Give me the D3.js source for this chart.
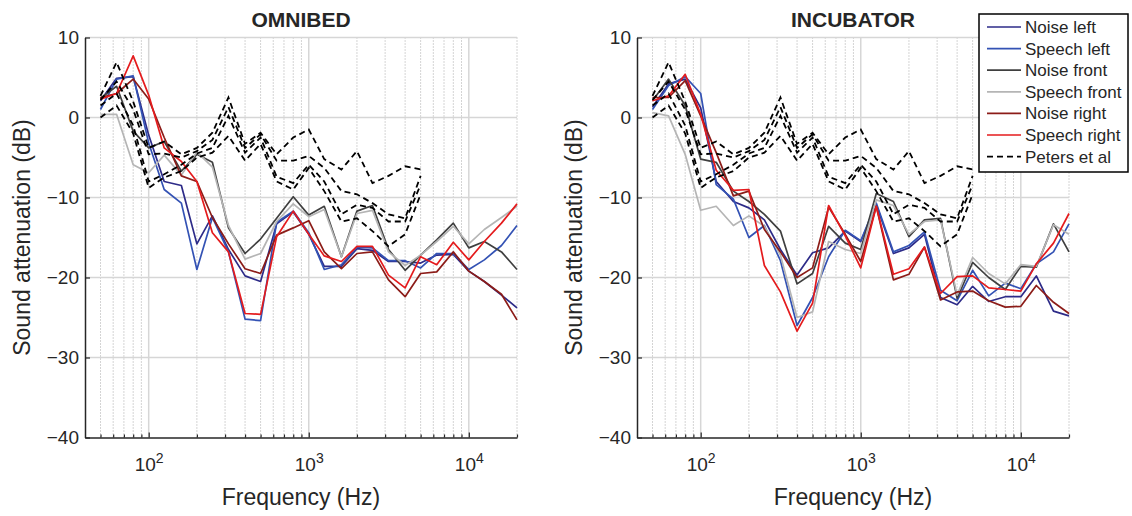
<!DOCTYPE html>
<html>
<head>
<meta charset="utf-8">
<script src="https://cdn.jsdelivr.net/npm/d3@7"></script>
<style>
  body { margin: 0; background: #fff; }
  text { font-family: "Liberation Sans", Arial, sans-serif; fill: #262626; }
</style>
</head>
<body>
<div id="root"></div>
<script>
// third-octave band centre frequencies (Hz)
const freqs = [50, 63, 80, 100, 125, 160, 200, 250, 315, 400, 500, 630, 800, 1000, 1250,
               1600, 2000, 2500, 3150, 4000, 5000, 6300, 8000, 10000, 12500, 16000, 20000];
const petersFreqs = [50, 63, 80, 100, 125, 160, 200, 250, 315, 400, 500, 630, 800, 1000,
                     1250, 1600, 2000, 2500, 3150, 4000, 5000];

const seriesNames = ["Noise left", "Speech left", "Noise front", "Speech front", "Noise right", "Speech right"];
const petersName = "Peters et al";

// OMNIBED (dB)
const omniNoiseLeft   = [2.1, 4.9, 5.1, -2.2, -8.0, -8.5, -15.8, -12.3, -16.5, -19.8, -20.5, -13.3, -11.8, -14.6, -18.6, -18.6, -16.4, -16.6, -18.0, -18.0, -18.2, -17.2, -17.1, -19.2, -20.5, -22.2, -23.8];
const omniSpeechLeft  = [1.0, 4.8, 5.2, -3.2, -9.0, -10.7, -19.0, -12.5, -16.8, -25.2, -25.4, -13.1, -11.7, -14.4, -19.0, -18.4, -16.2, -16.3, -17.9, -17.9, -18.8, -17.0, -17.0, -19.0, -17.8, -16.0, -13.5];
const omniNoiseFront  = [2.4, 3.9, -1.7, -3.8, -3.0, -6.7, -4.6, -5.6, -13.8, -17.0, -15.2, -12.6, -9.9, -12.2, -11.1, -17.4, -11.7, -11.0, -16.5, -19.1, -17.2, -15.3, -13.2, -16.3, -15.5, -16.8, -19.0];
const omniSpeechFront = [0.4, 0.4, -5.9, -6.9, -4.7, -7.2, -4.3, -6.2, -13.5, -17.7, -17.0, -13.0, -10.8, -12.4, -11.5, -17.4, -12.0, -11.6, -16.8, -18.5, -17.2, -15.5, -13.6, -15.8, -14.0, -12.5, -11.1];
const omniNoiseRight  = [2.5, 3.0, 4.8, 2.3, -2.5, -7.3, -8.0, -12.5, -15.8, -18.9, -19.5, -14.7, -13.8, -12.9, -16.8, -18.9, -17.0, -16.8, -20.3, -22.4, -19.5, -19.3, -16.8, -19.2, -20.5, -22.1, -25.3];
const omniSpeechRight = [2.3, 3.0, 7.7, 2.8, -3.8, -5.5, -8.0, -14.4, -16.8, -24.5, -24.6, -14.9, -11.7, -14.6, -17.3, -18.0, -16.1, -16.1, -19.7, -21.3, -17.4, -18.4, -15.6, -17.8, -15.5, -13.2, -10.8];

// INCUBATOR (dB)
const incNoiseLeft   = [1.3, 4.2, 4.8, 1.2, -8.0, -10.5, -11.3, -12.8, -16.5, -19.7, -16.9, -16.3, -14.2, -15.5, -10.9, -17.0, -16.3, -14.6, -22.5, -23.4, -21.1, -23.0, -22.4, -22.4, -19.8, -24.2, -24.8];
const incSpeechLeft  = [1.0, 4.0, 5.1, 3.0, -8.4, -10.2, -15.0, -13.5, -17.9, -26.0, -22.5, -17.4, -14.1, -15.4, -10.7, -16.8, -16.0, -14.3, -21.6, -22.9, -19.1, -22.3, -20.7, -21.4, -18.3, -16.8, -13.3];
const incNoiseFront  = [2.1, 4.8, 1.5, -5.2, -5.6, -9.2, -10.5, -12.1, -14.2, -20.8, -19.5, -13.6, -15.7, -16.5, -9.5, -10.5, -14.9, -12.8, -12.6, -22.6, -18.1, -20.0, -21.5, -18.6, -18.7, -13.3, -16.8];
const incSpeechFront = [0.6, 0.2, -4.6, -11.6, -11.1, -13.5, -12.3, -13.6, -17.2, -25.0, -24.3, -15.5, -16.5, -17.0, -10.3, -11.0, -14.6, -13.0, -12.8, -22.2, -17.5, -19.5, -20.8, -18.4, -18.6, -13.4, -14.6];
const incNoiseRight  = [2.5, 2.5, 4.6, 0.2, -4.4, -9.8, -9.2, -14.0, -16.8, -20.0, -18.8, -11.2, -14.6, -18.0, -11.1, -20.3, -19.6, -16.2, -22.8, -21.8, -21.7, -22.9, -23.7, -23.6, -21.0, -23.1, -24.5];
const incSpeechRight = [2.1, 2.7, 5.4, 0.4, -6.6, -9.1, -9.0, -18.5, -21.8, -26.7, -23.2, -11.0, -14.8, -18.8, -11.1, -19.6, -18.9, -16.2, -22.0, -19.9, -19.8, -21.3, -21.5, -21.7, -18.3, -15.7, -12.0];

// Peters et al reference curves (same in both panels)
const petersA = [2.7, 6.9, 2.0, -3.8, -3.0, -4.6, -3.8, -1.9, 2.5, -3.3, -1.9, -4.6, -2.5, -1.5, -5.2, -6.5, -4.2, -8.2, -7.3, -6.1, -6.5];
const petersB = [2.2, 4.5, 1.0, -4.6, -4.5, -5.0, -4.2, -2.8, 1.3, -3.8, -2.1, -5.4, -5.4, -4.8, -6.3, -9.2, -9.6, -10.7, -12.1, -12.6, -7.3];
const petersC = [1.5, 3.0, -1.0, -8.0, -7.1, -5.9, -4.5, -3.8, 0.2, -4.4, -2.5, -7.4, -8.2, -5.9, -8.0, -12.1, -10.9, -11.3, -13.0, -13.0, -8.4];
const petersD = [0.0, 1.5, -2.0, -8.8, -7.5, -6.7, -5.0, -4.4, -2.3, -5.4, -3.3, -8.0, -9.0, -6.3, -9.2, -13.0, -12.6, -14.2, -16.1, -14.6, -9.6];

const yTicks = [10, 0, -10, -20, -30, -40];
const xMajor = [100, 1000, 10000];

const colors = ["#2d2b88", "#3352b4", "#3f3f3f", "#b5b5b5", "#8c1c18", "#e41b1d"];

const outerWidth = 1132;
const outerHeight = 516;
const plotTop = 37.5;
const plotW = 432;
const plotH = 400;

let svg = d3.select("#root")
            .append("svg")
            .attr("width", outerWidth)
            .attr("height", outerHeight);

// minor log grid positions 2..9 x 10^k inside the domain
let minorTicks = [];
[10, 100, 1000, 10000].forEach(dec => {
    for (let m = 2; m <= 9; m++) {
        let v = dec * m;
        if (v > 40 && v <= 20000) minorTicks.push(v);
    }
});

function drawPanel(left, title, data) {
    let x = d3.scaleLog().domain([40, 20000]).range([left, left + plotW]);
    let y = d3.scaleLinear().domain([-40, 10]).range([plotTop + plotH, plotTop]);
    let g = svg.append("g");

    // grid
    g.selectAll(".minor").data(minorTicks).enter().append("line")
        .attr("x1", d => x(d)).attr("x2", d => x(d))
        .attr("y1", plotTop).attr("y2", plotTop + plotH)
        .attr("stroke", "#a9a9a9").attr("stroke-width", 1)
        .attr("stroke-dasharray", "1,2");

    g.selectAll(".major").data(xMajor).enter().append("line")
        .attr("x1", d => x(d)).attr("x2", d => x(d))
        .attr("y1", plotTop).attr("y2", plotTop + plotH)
        .attr("stroke", "#d6d6d6").attr("stroke-width", 1.5);

    g.selectAll(".hgrid").data(yTicks.slice(0, -1)).enter().append("line")
        .attr("x1", left).attr("x2", left + plotW)
        .attr("y1", d => y(d)).attr("y2", d => y(d))
        .attr("stroke", "#d6d6d6").attr("stroke-width", 1.5);

    // axes
    let yAxis = d3.axisLeft(y).tickValues(yTicks).tickSizeInner(-5).tickSizeOuter(0).tickPadding(6);
    let ya = g.append("g").attr("transform", `translate(${left},0)`).call(yAxis);
    ya.select(".domain").attr("stroke", "#262626").attr("stroke-width", 1.5);
    ya.selectAll(".tick line").attr("stroke", "#262626").attr("stroke-width", 1.2);
    ya.selectAll(".tick text").style("font-size", "19px").attr("fill", "#262626");

    let xMinorAxis = d3.axisBottom(x).tickValues(minorTicks).tickSizeInner(-3).tickSizeOuter(0).tickFormat("");
    let xm = g.append("g").attr("transform", `translate(0,${plotTop + plotH})`).call(xMinorAxis);
    xm.select(".domain").remove();
    xm.selectAll(".tick line").attr("stroke", "#262626").attr("stroke-width", 1.2);

    let xAxis = d3.axisBottom(x).tickValues(xMajor).tickSizeInner(-5).tickSizeOuter(0).tickPadding(20).tickFormat("");
    let xa = g.append("g").attr("transform", `translate(0,${plotTop + plotH})`).call(xAxis);
    xa.select(".domain").attr("stroke", "#262626").attr("stroke-width", 1.5);
    xa.selectAll(".tick line").attr("stroke", "#262626").attr("stroke-width", 1.2);
    xa.selectAll(".tick text")
        .style("font-size", "19px").attr("fill", "#262626")
        .each(function (d) {
            let t = d3.select(this);
            t.append("tspan").text("10");
            t.append("tspan").attr("dy", "-0.55em").style("font-size", "14px").text(Math.round(Math.log10(d)));
        });

    // series
    let line = d3.line().x((d, i) => x(freqs[i])).y(d => y(d));
    data.forEach((vals, i) => {
        g.append("path")
            .attr("d", line(vals))
            .attr("fill", "none")
            .attr("stroke", colors[i])
            .attr("stroke-width", 1.7)
            .attr("stroke-linejoin", "round");
    });

    let pLine = d3.line().x((d, i) => x(petersFreqs[i])).y(d => y(d));
    [petersA, petersB, petersC, petersD].forEach(vals => {
        g.append("path")
            .attr("d", pLine(vals))
            .attr("fill", "none")
            .attr("stroke", "#000")
            .attr("stroke-width", 1.8)
            .attr("stroke-dasharray", "6,4");
    });

    // labels
    g.append("text")
        .attr("x", left + plotW / 2).attr("y", 27)
        .attr("text-anchor", "middle")
        .style("font-size", "21px").style("font-weight", "bold")
        .attr("fill", "#000")
        .text(title);

    g.append("text")
        .attr("x", left + plotW / 2).attr("y", 505)
        .attr("text-anchor", "middle")
        .style("font-size", "23px")
        .text("Frequency (Hz)");

    g.append("text")
        .attr("transform", `translate(${left - 55}, ${plotTop + plotH / 2}) rotate(-90)`)
        .attr("text-anchor", "middle")
        .style("font-size", "23px")
        .text("Sound attenuation (dB)");
}

drawPanel(85, "OMNIBED", [omniNoiseLeft, omniSpeechLeft, omniNoiseFront, omniSpeechFront, omniNoiseRight, omniSpeechRight]);
drawPanel(637, "INCUBATOR", [incNoiseLeft, incSpeechLeft, incNoiseFront, incSpeechFront, incNoiseRight, incSpeechRight]);

// legend
let legend = svg.append("g").attr("transform", "translate(979,14)");
legend.append("rect")
    .attr("width", 149).attr("height", 158)
    .attr("fill", "#fff").attr("stroke", "#000").attr("stroke-width", 1.5);

let legendItems = seriesNames.map((n, i) => ({ name: n, color: colors[i], dash: null }))
    .concat([{ name: petersName, color: "#000", dash: "6,4" }]);

let item = legend.selectAll(".item").data(legendItems).enter().append("g")
    .attr("transform", (d, i) => `translate(0, ${13 + i * 21.6})`);
item.append("line")
    .attr("x1", 8).attr("x2", 42)
    .attr("stroke", d => d.color)
    .attr("stroke-width", d => d.dash ? 1.8 : 1.7)
    .attr("stroke-dasharray", d => d.dash);
item.append("text")
    .attr("x", 46).attr("dy", "0.35em")
    .style("font-size", "17px")
    .text(d => d.name);
</script>
</body>
</html>
